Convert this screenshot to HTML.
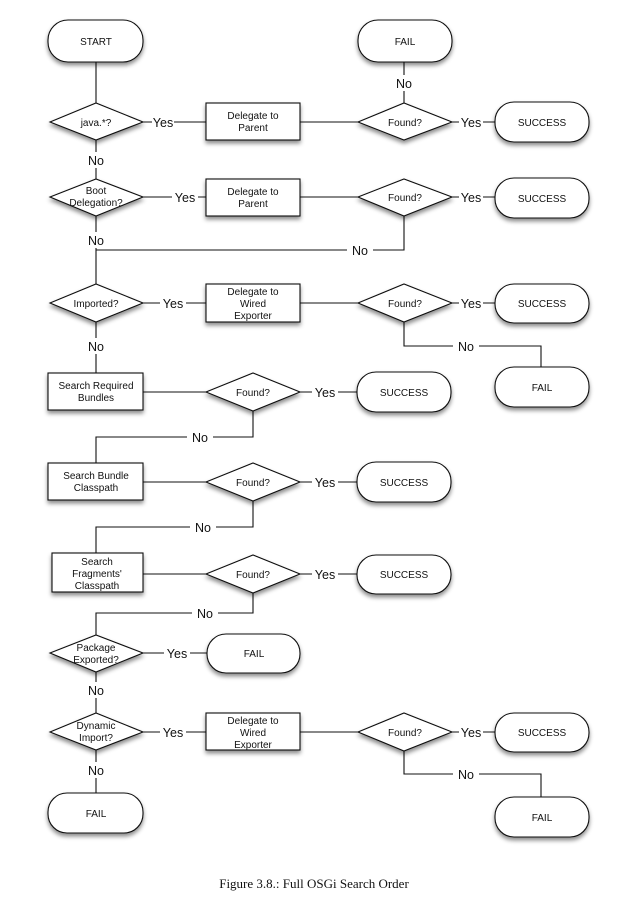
<!DOCTYPE html>
<html><head><meta charset="utf-8"><style>
html,body{margin:0;padding:0;background:#fff;}
svg{display:block;}
.n{font-family:"Liberation Sans",sans-serif;font-size:10px;fill:#111;text-anchor:middle;}
.l{font-family:"Liberation Sans",sans-serif;font-size:12.5px;fill:#111;text-anchor:middle;}
.s{fill:#fff;stroke:#111;stroke-width:1.1;filter:url(#sh);}
.w{stroke:#111;stroke-width:1.1;fill:none;}
.bg{fill:#fff;}
</style></head><body>
<svg width="629" height="901" viewBox="0 0 629 901" xmlns="http://www.w3.org/2000/svg">
<defs><filter id="sh" x="-20%" y="-20%" width="140%" height="160%"><feDropShadow dx="0" dy="3" stdDeviation="2.2" flood-color="#000" flood-opacity="0.45"/></filter></defs>

<!-- connectors -->
<g class="w">
<path d="M96 62 V103"/>
<path d="M143 122 H206 M300 122 H358 M452 122 H495"/>
<path d="M404 62 V103"/>
<path d="M96 140 V179"/>
<path d="M143 197 H206 M300 197 H358 M452 197 H495"/>
<path d="M96 216 V284"/>
<path d="M404 216 V250 H96"/>
<path d="M143 303 H206 M300 303 H358 M452 303 H495"/>
<path d="M404 322 V346 H541 V367"/>
<path d="M96 322 V373"/>
<path d="M143 392 H206 M300 392 H357"/>
<path d="M253 411 V437 H96 V463"/>
<path d="M143 482 H206 M300 482 H357"/>
<path d="M253 501 V527 H96 V553"/>
<path d="M143 574 H206 M300 574 H357"/>
<path d="M253 593 V613 H96 V635"/>
<path d="M143 653 H207"/>
<path d="M96 672 V713"/>
<path d="M143 732 H206 M300 732 H358 M452 732 H495"/>
<path d="M96 750 V793"/>
<path d="M404 751 V774 H541 V797"/>
</g>

<!-- label backgrounds + labels -->
<g>
<rect class="bg" x="152" y="114" width="22" height="16"/><text class="l" x="163" y="127">Yes</text>
<rect class="bg" x="459" y="114" width="24" height="16"/><text class="l" x="471" y="127">Yes</text>
<rect class="bg" x="393" y="75" width="22" height="16"/><text class="l" x="404" y="88">No</text>
<rect class="bg" x="85" y="152" width="22" height="16"/><text class="l" x="96" y="165">No</text>
<rect class="bg" x="172" y="189" width="26" height="16"/><text class="l" x="185" y="202">Yes</text>
<rect class="bg" x="459" y="189" width="24" height="16"/><text class="l" x="471" y="202">Yes</text>
<rect class="bg" x="85" y="232" width="22" height="16"/><text class="l" x="96" y="245">No</text>
<rect class="bg" x="347" y="242" width="26" height="16"/><text class="l" x="360" y="255">No</text>
<rect class="bg" x="160" y="295" width="26" height="16"/><text class="l" x="173" y="308">Yes</text>
<rect class="bg" x="459" y="295" width="24" height="16"/><text class="l" x="471" y="308">Yes</text>
<rect class="bg" x="453" y="338" width="26" height="16"/><text class="l" x="466" y="351">No</text>
<rect class="bg" x="85" y="338" width="22" height="16"/><text class="l" x="96" y="351">No</text>
<rect class="bg" x="312" y="384" width="26" height="16"/><text class="l" x="325" y="397">Yes</text>
<rect class="bg" x="187" y="429" width="26" height="16"/><text class="l" x="200" y="442">No</text>
<rect class="bg" x="312" y="474" width="26" height="16"/><text class="l" x="325" y="487">Yes</text>
<rect class="bg" x="190" y="519" width="26" height="16"/><text class="l" x="203" y="532">No</text>
<rect class="bg" x="312" y="566" width="26" height="16"/><text class="l" x="325" y="579">Yes</text>
<rect class="bg" x="192" y="605" width="26" height="16"/><text class="l" x="205" y="618">No</text>
<rect class="bg" x="164" y="645" width="26" height="16"/><text class="l" x="177" y="658">Yes</text>
<rect class="bg" x="85" y="682" width="22" height="16"/><text class="l" x="96" y="695">No</text>
<rect class="bg" x="160" y="724" width="26" height="16"/><text class="l" x="173" y="737">Yes</text>
<rect class="bg" x="459" y="724" width="24" height="16"/><text class="l" x="471" y="737">Yes</text>
<rect class="bg" x="85" y="762" width="22" height="16"/><text class="l" x="96" y="775">No</text>
<rect class="bg" x="453" y="766" width="26" height="16"/><text class="l" x="466" y="779">No</text>
</g>

<!-- terminals -->
<g>
<rect class="s" x="48" y="20" width="95" height="42" rx="20"/><text class="n" x="96" y="45">START</text>
<rect class="s" x="358" y="20" width="94" height="42" rx="20"/><text class="n" x="405" y="45">FAIL</text>
<rect class="s" x="495" y="102" width="94" height="40" rx="19"/><text class="n" x="542" y="126">SUCCESS</text>
<rect class="s" x="495" y="178" width="94" height="40" rx="19"/><text class="n" x="542" y="202">SUCCESS</text>
<rect class="s" x="495" y="284" width="94" height="39" rx="19"/><text class="n" x="542" y="307">SUCCESS</text>
<rect class="s" x="495" y="367" width="94" height="40" rx="19"/><text class="n" x="542" y="391">FAIL</text>
<rect class="s" x="357" y="372" width="94" height="40" rx="19"/><text class="n" x="404" y="396">SUCCESS</text>
<rect class="s" x="357" y="462" width="94" height="40" rx="19"/><text class="n" x="404" y="486">SUCCESS</text>
<rect class="s" x="357" y="555" width="94" height="39" rx="19"/><text class="n" x="404" y="578">SUCCESS</text>
<rect class="s" x="207" y="634" width="93" height="39" rx="19"/><text class="n" x="254" y="657">FAIL</text>
<rect class="s" x="495" y="713" width="94" height="39" rx="19"/><text class="n" x="542" y="736">SUCCESS</text>
<rect class="s" x="48" y="793" width="95" height="40" rx="19"/><text class="n" x="96" y="817">FAIL</text>
<rect class="s" x="495" y="797" width="94" height="40" rx="19"/><text class="n" x="542" y="821">FAIL</text>
</g>

<!-- process boxes -->
<g>
<rect class="s" x="206" y="103" width="94" height="37"/><text class="n" x="253" y="119">Delegate to</text><text class="n" x="253" y="131">Parent</text>
<rect class="s" x="206" y="179" width="94" height="37"/><text class="n" x="253" y="195">Delegate to</text><text class="n" x="253" y="207">Parent</text>
<rect class="s" x="206" y="284" width="94" height="38"/><text class="n" x="253" y="295">Delegate to</text><text class="n" x="253" y="307">Wired</text><text class="n" x="253" y="319">Exporter</text>
<rect class="s" x="48" y="373" width="95" height="37"/><text class="n" x="96" y="389">Search Required</text><text class="n" x="96" y="401">Bundles</text>
<rect class="s" x="48" y="463" width="95" height="37"/><text class="n" x="96" y="479">Search Bundle</text><text class="n" x="96" y="491">Classpath</text>
<rect class="s" x="52" y="553" width="91" height="39"/><text class="n" x="97" y="565">Search</text><text class="n" x="97" y="577">Fragments'</text><text class="n" x="97" y="589">Classpath</text>
<rect class="s" x="206" y="713" width="94" height="37"/><text class="n" x="253" y="724">Delegate to</text><text class="n" x="253" y="736">Wired</text><text class="n" x="253" y="748">Exporter</text>
</g>

<!-- diamonds -->
<g>
<path class="s" d="M50 122 L96 103 L143 122 L96 140 Z"/><text class="n" x="96" y="126">java.*?</text>
<path class="s" d="M358 122 L404 103 L452 122 L404 140 Z"/><text class="n" x="405" y="126">Found?</text>
<path class="s" d="M50 197 L96 179 L143 197 L96 216 Z"/><text class="n" x="96" y="194">Boot</text><text class="n" x="96" y="206">Delegation?</text>
<path class="s" d="M358 197 L404 179 L452 197 L404 216 Z"/><text class="n" x="405" y="201">Found?</text>
<path class="s" d="M50 303 L96 284 L143 303 L96 322 Z"/><text class="n" x="96" y="307">Imported?</text>
<path class="s" d="M358 303 L404 284 L452 303 L404 322 Z"/><text class="n" x="405" y="307">Found?</text>
<path class="s" d="M206 392 L253 373 L300 392 L253 411 Z"/><text class="n" x="253" y="396">Found?</text>
<path class="s" d="M206 482 L253 463 L300 482 L253 501 Z"/><text class="n" x="253" y="486">Found?</text>
<path class="s" d="M206 574 L253 555 L300 574 L253 593 Z"/><text class="n" x="253" y="578">Found?</text>
<path class="s" d="M50 653 L96 635 L143 653 L96 672 Z"/><text class="n" x="96" y="651">Package</text><text class="n" x="96" y="663">Exported?</text>
<path class="s" d="M50 732 L96 713 L143 732 L96 750 Z"/><text class="n" x="96" y="729">Dynamic</text><text class="n" x="96" y="741">Import?</text>
<path class="s" d="M358 732 L404 713 L452 732 L404 751 Z"/><text class="n" x="405" y="736">Found?</text>
</g>

<text x="314" y="888" style="font-family:'Liberation Serif',serif;font-size:13px;fill:#111;text-anchor:middle;">Figure 3.8.: Full OSGi Search Order</text>
</svg>
</body></html>
